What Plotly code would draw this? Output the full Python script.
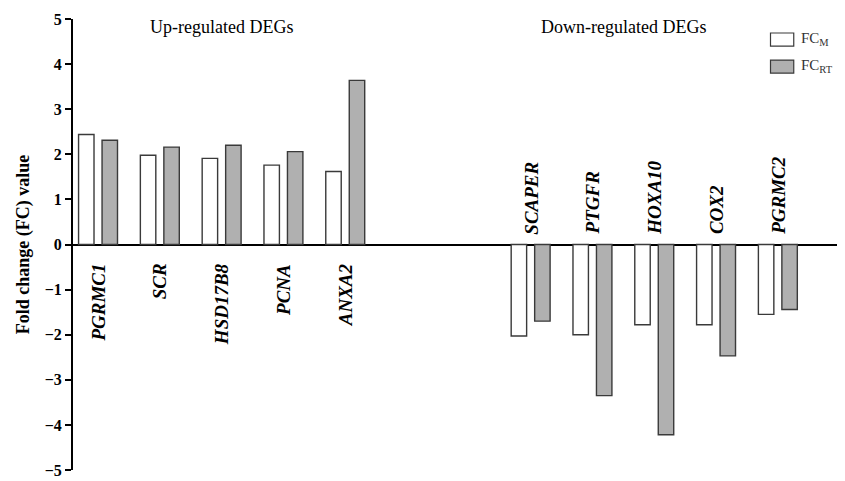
import plotly.graph_objects as go

up_genes = ["PGRMC1", "SCR", "HSD17B8", "PCNA", "ANXA2"]
down_genes = ["SCAPER", "PTGFR", "HOXA10", "COX2", "PGRMC2"]
up_fc_m = [2.44, 1.98, 1.91, 1.76, 1.62]
up_fc_rt = [2.31, 2.16, 2.20, 2.06, 3.64]
down_fc_m = [-2.03, -2.00, -1.78, -1.78, -1.55]
down_fc_rt = [-1.70, -3.35, -4.22, -2.47, -1.44]
up_pos = [0, 1, 2, 3, 4]
down_pos = [7, 8, 9, 10, 11]
y_ticks = [5, 4, 3, 2, 1, 0, -1, -2, -3, -4, -5]

xs = up_pos + down_pos
fc_m = up_fc_m + down_fc_m
fc_rt = up_fc_rt + down_fc_rt

FONT = "Liberation Serif, Times New Roman, serif"
OUTLINE = "#3a3a3a"

fig = go.Figure()
fig.add_trace(go.Bar(x=xs, y=fc_m, width=0.25, offset=-0.315,
                     marker=dict(color="white", line=dict(color=OUTLINE, width=1.4)),
                     name="FC<sub>M</sub>", showlegend=False))
fig.add_trace(go.Bar(x=xs, y=fc_rt, width=0.25, offset=0.065,
                     marker=dict(color="#b0b0b0", line=dict(color=OUTLINE, width=1.4)),
                     name="FC<sub>RT</sub>", showlegend=False))

ann = []
for g, p in zip(up_genes, up_pos):
    ann.append(dict(x=p, y=0, xref="x", yref="y", text="<b><i>%s</i></b>" % g,
                    textangle=-90, showarrow=False, xanchor="center", yanchor="top",
                    yshift=-17, font=dict(family=FONT, size=19, color="black")))
for g, p in zip(down_genes, down_pos):
    ann.append(dict(x=p, y=0, xref="x", yref="y", text="<b><i>%s</i></b>" % g,
                    textangle=-90, showarrow=False, xanchor="center", yanchor="bottom",
                    yshift=8, font=dict(family=FONT, size=19, color="black")))
ann.append(dict(x=2, y=5, xref="x", yref="y", text="Up-regulated DEGs", showarrow=False,
                xanchor="center", yanchor="middle", yshift=-8,
                font=dict(family=FONT, size=18, color="black")))
ann.append(dict(x=8.5, y=5, xref="x", yref="y", text="Down-regulated DEGs", showarrow=False,
                xanchor="center", yanchor="middle", yshift=-8,
                font=dict(family=FONT, size=18, color="black")))

# custom legend
legend_items = [("FC<sub>M</sub>", "white", 0.955), ("FC<sub>RT</sub>", "#b0b0b0", 0.895)]
shapes = []
for label, col, yy in legend_items:
    shapes.append(dict(type="rect", xref="paper", yref="paper",
                       x0=0.9, x1=0.93, y0=yy - 0.015, y1=yy + 0.014,
                       fillcolor=col, line=dict(color=OUTLINE, width=1.2)))
    ann.append(dict(x=0.937, y=yy, xref="paper", yref="paper", text=label, showarrow=False,
                    xanchor="left", yanchor="middle",
                    font=dict(family=FONT, size=15, color="#333")))

fig.update_layout(
    width=845, height=481,
    margin=dict(l=65, r=5, t=11, b=19),
    paper_bgcolor="white", plot_bgcolor="white",
    barmode="overlay",
    annotations=ann, shapes=shapes,
    showlegend=False,
    xaxis=dict(range=[-0.405, 12.135], showticklabels=False, showgrid=False,
               zeroline=False, showline=False, ticks="", automargin=False),
    yaxis=dict(range=[-5, 5], tickvals=y_ticks, ticks="outside", ticklen=6, tickwidth=2,
               tickcolor="black", showline=True, linecolor="black", linewidth=2,
               showgrid=False, zeroline=True, zerolinecolor="black", zerolinewidth=2,
               automargin=False,
               tickfont=dict(family=FONT, size=16, color="black", weight="bold"),
               title=dict(text="<b>Fold change (FC) value</b>", standoff=10,
                          font=dict(family=FONT, size=18, color="black"))),
)

fig.write_html("out.html")
